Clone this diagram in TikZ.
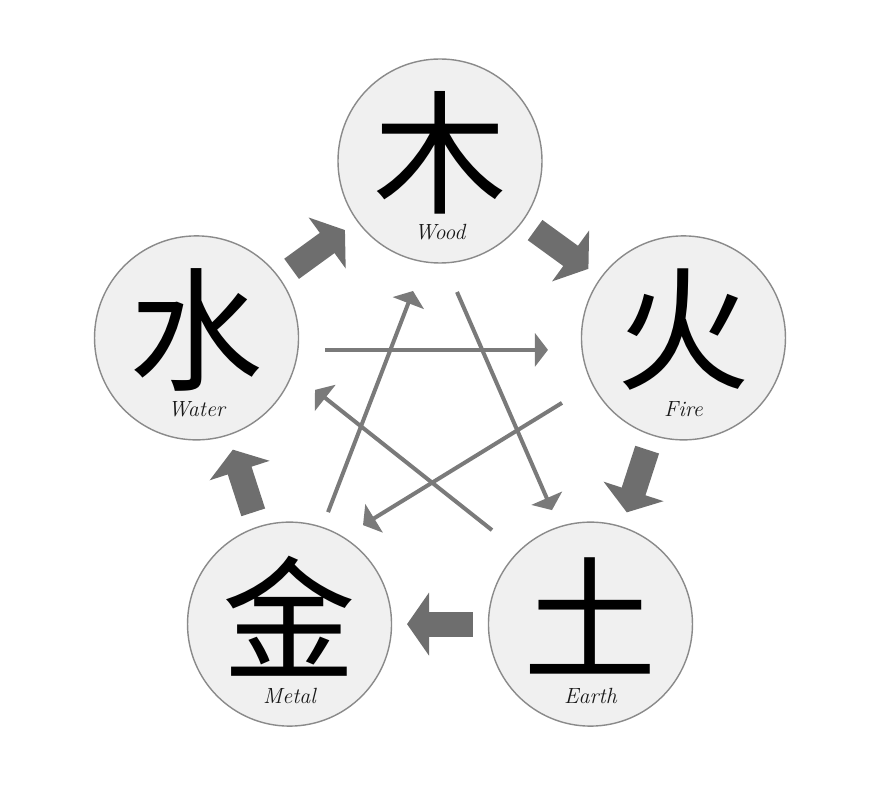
\documentclass[tikz,border=0pt]{standalone}
\usepackage{fontspec}
\usepackage{xcolor}
\usetikzlibrary{arrows.meta,calc}
\newfontfamily\hanzifont{Noto Sans CJK SC}
\definecolor{discfill}{HTML}{F0F0F0}
\definecolor{discline}{HTML}{8A8A8A}
\definecolor{arrgray}{HTML}{6E6E6E}
\definecolor{thingray}{HTML}{7A7A7A}
\tikzset{
  element/.style={circle,draw=discline,fill=discfill,line width=0.8pt,
                  minimum size=4.08cm,inner sep=0pt},
  hanzi/.style={font=\hanzifont\fontsize{76}{76}\selectfont,inner sep=0pt},
  engname/.style={font=\fontsize{12.5}{14}\selectfont\itshape,
                  inner sep=0pt,anchor=base,text=black!90},
  genarr/.style={-{Triangle[length=4.4mm,width=12.4mm]},line width=5mm,
                 color=arrgray,shorten <=2.35cm,shorten >=2.35cm},
  ctrlarr/.style={-{Triangle[length=2.6mm,width=6.6mm]},line width=0.8mm,
                  color=thingray}
}

\begin{document}
\begin{tikzpicture}
  \useasboundingbox (-8.80,-7.54) rectangle (8.82,8.34);
  % the five elements on a pentagon
  \foreach \name/\ang/\han/\eng in {wood/90/木/Wood,fire/18/火/Fire,
      earth/-54/土/Earth,metal/-126/金/Metal,water/162/水/Water} {
    \node[element] (\name) at (\ang:5.12) {};
    \node[hanzi] (\name-han) at ([yshift=0.16cm]\name.center) {\han};
    \node[engname] (\name-lbl) at ([yshift=-1.58cm]\name.center) {\eng};
  }
  % generating cycle, round the outside
  \foreach \a/\b in {wood/fire,fire/earth,earth/metal,metal/water,water/wood} {
    \draw[genarr] (\a.center) -- (\b.center);
  }
  % controlling cycle, the star inside
  \draw[ctrlarr] ([shift={(2.57,-0.24)}]water.center) -- ([shift={(-2.71,-0.24)}]fire.center);
  \draw[ctrlarr] ([shift={(0.34,-2.62)}]wood.center) -- ([shift={(-0.77,2.28)}]earth.center);
  \draw[ctrlarr] ([shift={(-1.97,1.88)}]earth.center) -- ([shift={(2.37,-1.04)}]water.center);
  \draw[ctrlarr] ([shift={(-2.43,-1.30)}]fire.center) -- ([shift={(1.47,1.98)}]metal.center);
  \draw[ctrlarr] ([shift={(0.77,2.24)}]metal.center) -- ([shift={(-0.54,-2.60)}]wood.center);
\end{tikzpicture}
\end{document}
